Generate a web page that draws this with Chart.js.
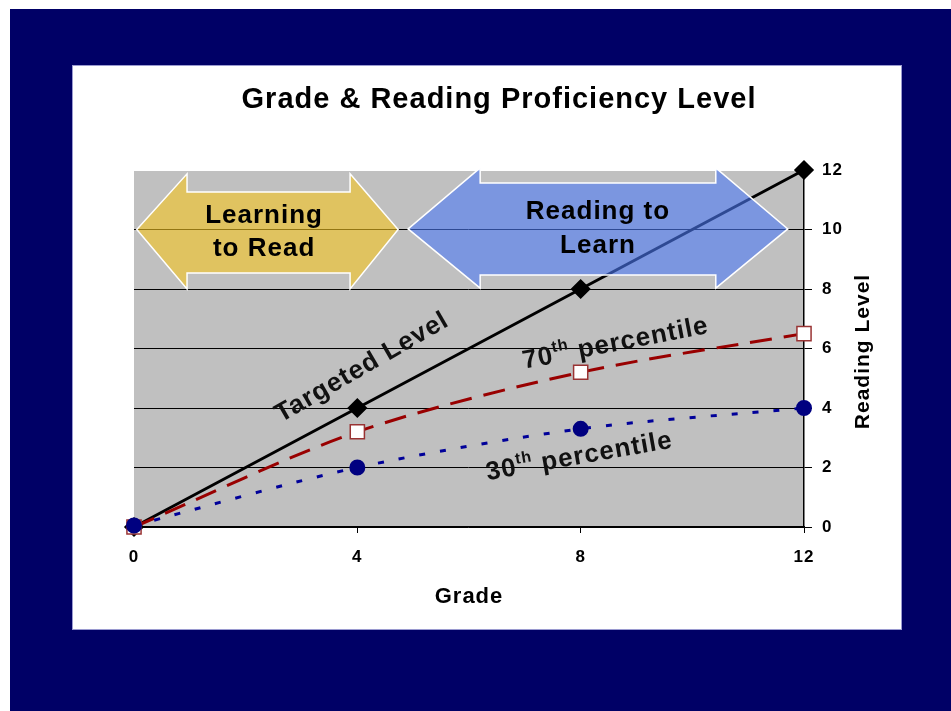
<!DOCTYPE html>
<html>
<head>
<meta charset="utf-8">
<script src="https://cdn.jsdelivr.net/npm/chart.js@4"></script>
<style>
    body { margin: 0; background: #fff; width: 951px; height: 711px; overflow: hidden; }
    .navy { position: absolute; left: 10px; top: 9px; right: 0; bottom: 0; background: #000066; }
    .panel { position: absolute; left: 72px; top: 65px; width: 830px; height: 565px; background: #fff; box-shadow: inset 0 0 0 1px #9a9ad0; }
    .panel canvas { position: absolute; left: 0; top: 0; }
</style>
</head>
<body>
<div class="navy"></div>
<div class="panel"><canvas id="mainChart"></canvas></div>
<script>
// datos
const grades = [0, 4, 8, 12];
const targetedLevel = [0, 4, 8, 12];
const pct70 = [0, 3.2, 5.2, 6.5];
const pct30 = [0.05, 2.0, 3.3, 4.0];
const gradeTicks = [0, 4, 8, 12];
const levelTicks = [0, 2, 4, 6, 8, 10, 12];

const FONT = "'Liberation Sans', Arial, sans-serif";

// flechas en unidades de los ejes (grado, nivel)
const arrows = [
    { fill: 'rgba(245,197,32,0.6)', x0: 0.05, xh1: 0.95, xh2: 3.87, x1: 4.73,
      yTip: 10, yTop: 11.87, yBot: 8.0, yBodyTop: 11.26, yBodyBot: 8.54,
      lines: ['Learning', 'to Read'], tx: 2.33, ty: [10.45, 9.34] },
    { fill: 'rgba(77,122,245,0.6)', x0: 4.91, xh1: 6.2, xh2: 10.42, x1: 11.71,
      yTip: 10.02, yTop: 12.07, yBot: 8.03, yBodyTop: 11.56, yBodyBot: 8.47,
      lines: ['Reading to', 'Learn'], tx: 8.31, ty: [10.59, 9.45] }
];

const notes = [
    { parts: [['Targeted Level', false]], x: 4.07, y: 5.41, angle: -30 },
    { parts: [['70', false], ['th', true], [' percentile', false]], x: 8.62, y: 6.22, angle: -11 },
    { parts: [['30', false], ['th', true], [' percentile', false]], x: 7.97, y: 2.42, angle: -10 }
];

function toPoints(ys) {
    return grades.map((g, i) => ({ x: g, y: ys[i] }));
}

function drawArrow(ctx, xs, ys, a) {
    const X = v => xs.getPixelForValue(v);
    const Y = v => ys.getPixelForValue(v);
    ctx.beginPath();
    ctx.moveTo(X(a.x0), Y(a.yTip));
    ctx.lineTo(X(a.xh1), Y(a.yTop));
    ctx.lineTo(X(a.xh1), Y(a.yBodyTop));
    ctx.lineTo(X(a.xh2), Y(a.yBodyTop));
    ctx.lineTo(X(a.xh2), Y(a.yTop));
    ctx.lineTo(X(a.x1), Y(a.yTip));
    ctx.lineTo(X(a.xh2), Y(a.yBot));
    ctx.lineTo(X(a.xh2), Y(a.yBodyBot));
    ctx.lineTo(X(a.xh1), Y(a.yBodyBot));
    ctx.lineTo(X(a.xh1), Y(a.yBot));
    ctx.closePath();
    ctx.fillStyle = a.fill;
    ctx.fill();
    ctx.strokeStyle = '#ffffff';
    ctx.lineWidth = 1.5;
    ctx.stroke();

    ctx.fillStyle = '#000';
    ctx.font = `bold 26px ${FONT}`;
    ctx.textAlign = 'center';
    ctx.textBaseline = 'middle';
    a.lines.forEach((t, i) => ctx.fillText(t, X(a.tx), Y(a.ty[i])));
}

function drawNote(ctx, xs, ys, n) {
    const big = `bold 26px ${FONT}`;
    const small = `bold 16px ${FONT}`;
    ctx.save();
    ctx.translate(xs.getPixelForValue(n.x), ys.getPixelForValue(n.y));
    ctx.rotate(n.angle * Math.PI / 180);
    let w = 0;
    n.parts.forEach(([t, sup]) => { ctx.font = sup ? small : big; w += ctx.measureText(t).width; });
    let x = -w / 2;
    ctx.fillStyle = '#111';
    ctx.textAlign = 'left';
    ctx.textBaseline = 'alphabetic';
    n.parts.forEach(([t, sup]) => {
        ctx.font = sup ? small : big;
        ctx.fillText(t, x, sup ? -2 : 9);
        x += ctx.measureText(t).width;
    });
    ctx.restore();
}

const decoPlugin = {
    id: 'deco',
    beforeLayout(chart) { chart.ctx.letterSpacing = '1px'; },
    beforeDraw(chart) {
        const { ctx, chartArea: a } = chart;
        ctx.letterSpacing = '1px';
        ctx.save();
        ctx.fillStyle = '#c0c0c0';
        ctx.fillRect(a.left, a.top + 1, a.right - a.left, a.bottom - a.top - 1);
        ctx.restore();
    },
    afterDatasetsDraw(chart) {
        const { ctx, scales } = chart;
        ctx.save();
        arrows.forEach(a => drawArrow(ctx, scales.x, scales.y, a));
        notes.forEach(n => drawNote(ctx, scales.x, scales.y, n));
        ctx.restore();
    },
    afterDraw(chart) {
        const { ctx, chartArea: a } = chart;
        ctx.save();
        ctx.fillStyle = '#000';
        ctx.textAlign = 'center';
        ctx.textBaseline = 'middle';
        // título
        ctx.font = `bold 29px ${FONT}`;
        ctx.fillText('Grade & Reading Proficiency Level', chart.width / 2 + 12, 35);
        // título del eje Y, de abajo hacia arriba
        ctx.font = `bold 21px ${FONT}`;
        ctx.translate(a.right + 59, (a.top + a.bottom) / 2 + 3);
        ctx.rotate(-Math.PI / 2);
        ctx.fillText('Reading Level', 0, 0);
        ctx.restore();
    }
};

const ctx = document.getElementById('mainChart').getContext('2d');

new Chart(ctx, {
    type: 'line',
    data: {
        datasets: [
            {
                label: '30th percentile',
                data: toPoints(pct30),
                borderColor: '#000099',
                borderWidth: 3,
                borderDash: [6, 15],
                pointStyle: 'circle',
                pointRadius: 6.5,
                pointBackgroundColor: '#000080',
                pointBorderColor: '#000080',
                tension: 0.3,
                clip: false,
                order: 0
            },
            {
                label: '70th percentile',
                data: toPoints(pct70),
                borderColor: '#990000',
                borderWidth: 3,
                borderDash: [22, 12],
                pointStyle: 'rect',
                pointRadius: 10,
                pointBackgroundColor: '#ffffff',
                pointBorderColor: '#993333',
                pointBorderWidth: 1.5,
                tension: 0.3,
                clip: false,
                order: 1
            },
            {
                label: 'Targeted Level',
                data: toPoints(targetedLevel),
                borderColor: '#000000',
                borderWidth: 3,
                pointStyle: 'rectRot',
                pointRadius: 8,
                pointBackgroundColor: '#000000',
                pointBorderColor: '#000000',
                tension: 0,
                clip: false,
                order: 2
            }
        ]
    },
    options: {
        responsive: true,
        maintainAspectRatio: false,
        animation: false,
        layout: { padding: { top: 105, left: 62, right: 0, bottom: 0 } },
        plugins: {
            legend: { display: false },
            tooltip: { enabled: false },
            title: { display: false }
        },
        scales: {
            x: {
                type: 'linear',
                min: 0,
                max: 12,
                afterBuildTicks: s => { s.ticks = gradeTicks.map(v => ({ value: v })); },
                afterFit: s => { s.height = 103; },
                grid: { drawOnChartArea: false, drawTicks: true, tickLength: 6, tickColor: '#000' },
                border: { color: '#000', width: 1.5 },
                ticks: { color: '#000', padding: 14, font: { family: FONT, size: 17, weight: 'bold' } },
                title: {
                    display: true,
                    text: 'Grade',
                    color: '#000',
                    font: { family: FONT, size: 22, weight: 'bold' },
                    padding: { top: 0, bottom: 20 }
                }
            },
            y: {
                position: 'right',
                min: 0,
                max: 12,
                afterBuildTicks: s => { s.ticks = levelTicks.map(v => ({ value: v })); },
                afterFit: s => { s.width = 98; },
                grid: {
                    color: c => (c.tick && c.tick.value === 12) ? 'rgba(0,0,0,0)' : '#000',
                    lineWidth: 1,
                    tickLength: 8,
                    tickColor: '#000'
                },
                border: { color: '#000', width: 1.5 },
                ticks: { color: '#000', padding: 10, font: { family: FONT, size: 17, weight: 'bold' } }
            }
        }
    },
    plugins: [decoPlugin]
});
</script>
</body>
</html>
